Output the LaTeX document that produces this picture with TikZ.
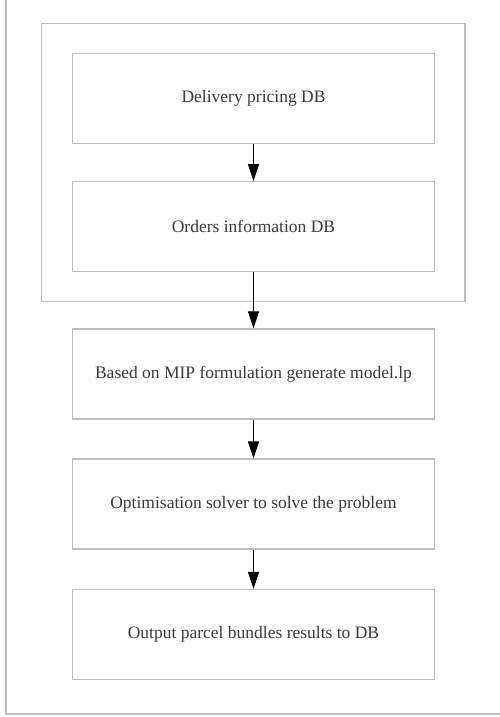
\documentclass[tikz,border=0pt]{standalone}
\usepackage{fontspec}
\setmainfont{Liberation Serif}
\usetikzlibrary{arrows.meta}
\definecolor{boxgray}{HTML}{BDBDBD}
\definecolor{txtgray}{HTML}{3A3A3A}
\tikzset{
  x=1pt, y=-1pt,
  stepbox/.style={draw=boxgray, line width=1.3pt, minimum width=361.6pt, minimum height=90pt, inner sep=0pt, text=txtgray, font=\fontsize{17.5}{21}\selectfont},
  framebox/.style={draw=boxgray, line width=1.3pt},
  flow/.style={-{Triangle[length=17pt,width=11pt]}, line width=1.2pt, black},
}
\begin{document}
\begin{tikzpicture}
\useasboundingbox (0,0) rectangle (500,717);
% outer frame (top and right edges fall outside the picture)
\draw[framebox] (6,-5) -- (6,714) -- (505,714);
% inner group
\draw[framebox] (41.3,23.3) rectangle (465,301.7);
\node[stepbox] (b1) at (253.5,98.8) {Delivery pricing DB};
\node[stepbox] (b2) at (253.5,226.8) {Orders information DB};
\node[stepbox] (b3) at (253.5,374) {Based on MIP formulation generate model.lp};
\node[stepbox] (b4) at (253.5,504) {Optimisation solver to solve the problem};
\node[stepbox] (b5) at (253.5,634.6) {Output parcel bundles results to DB};
\coordinate (g) at (253.5,301.7);
\draw[flow] (b1.south) -- (b2.north);
\draw[flow] (b2.south) -- (b3.north);
\draw[flow] (b3.south) -- (b4.north);
\draw[flow] (b4.south) -- (b5.north);
\end{tikzpicture}
\end{document}
